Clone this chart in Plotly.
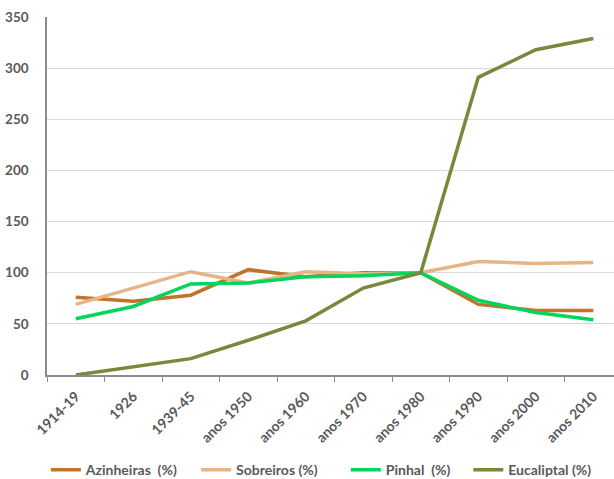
import plotly.graph_objects as go

periods = ["1914-19", "1926", "1939-45", "anos 1950", "anos 1960",
           "anos 1970", "anos 1980", "anos 1990", "anos 2000", "anos 2010"]

azinheiras = [76, 72, 78, 103, 96, 100, 100, 69, 63, 63]
sobreiros = [69, 85, 101, 90, 101, 99, 100, 111, 109, 110]
pinhal = [55, 67, 89, 90, 96, 97, 100, 73, 61, 54]
eucaliptal = [0, 8, 16, 34, 53, 85, 100, 291, 318, 329]

series = [
    ("Azinheiras  (%)", azinheiras, "#C0722E"),
    ("Sobreiros (%)", sobreiros, "#E5B586"),
    ("Pinhal  (%)", pinhal, "#00D65A"),
    ("Eucaliptal (%)", eucaliptal, "#77893B"),
]

text_color = "#595959"
font_family = "Lato, 'Open Sans', sans-serif"
legend_font = dict(family=font_family, size=14, color=text_color, weight="bold")

# one legend box per series so the entries sit at fixed positions
legend_ids = ["legend", "legend2", "legend3", "legend4"]
legend_x = [-0.002, 0.263, 0.527, 0.743]

fig = go.Figure()
for (name, values, color), lid in zip(series, legend_ids):
    fig.add_trace(go.Scatter(
        x=periods, y=values, name=name, mode="lines",
        line=dict(color=color, width=3.5), legend=lid,
    ))

legend_layout = {}
for lid, lx in zip(legend_ids, legend_x):
    legend_layout[lid] = dict(
        orientation="h", x=lx, xanchor="left", y=-0.266, yanchor="middle",
        font=legend_font, itemwidth=30, bgcolor="rgba(0,0,0,0)",
    )

fig.update_layout(
    width=614, height=479,
    margin=dict(l=47, r=0, t=17, b=104, autoexpand=False),
    paper_bgcolor="white", plot_bgcolor="white",
    showlegend=True,
    **legend_layout,
)

fig.update_xaxes(
    type="category", range=[-0.5, 9.36], automargin=False,
    showgrid=False, showline=True, linecolor="#8C8C8C", linewidth=1.5,
    ticks="outside", tickson="boundaries", ticklen=5, tickcolor="#8C8C8C",
    tickangle=-45, ticklabelstandoff=6,
    tickfont=dict(family=font_family, size=14, color=text_color, weight="bold"),
)
fig.update_yaxes(
    range=[0, 350], tick0=0, dtick=50, automargin=False,
    showgrid=True, gridcolor="#D9D9D9", gridwidth=1,
    showline=True, linecolor="#8C8C8C", linewidth=1.5,
    zeroline=False, ticks="", ticklabelstandoff=14,
    tickfont=dict(family=font_family, size=13.5, color=text_color, weight="bold"),
)

fig.write_html("out.html")
